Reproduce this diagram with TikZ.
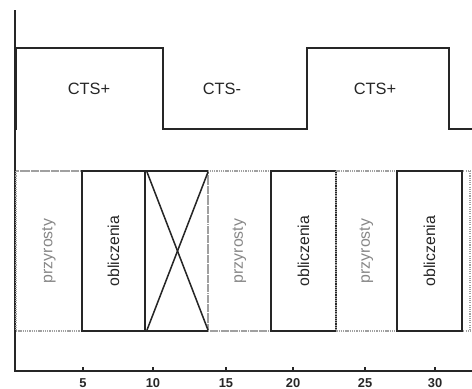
\documentclass[tikz,border=0pt]{standalone}
\usepackage{fontspec}
\setmainfont{Liberation Sans}
\usepackage{tikz}
\usetikzlibrary{positioning}
\definecolor{ink}{RGB}{38,38,38}
\definecolor{muted}{RGB}{135,135,135}
\definecolor{rline}{RGB}{160,160,160}
\tikzset{
  sigline/.style ={line width=1.8pt, color=ink, line join=miter},
  axisline/.style={line width=0.9pt, color=ink},
  gainbox/.style ={draw=rline, densely dotted, line width=0.9pt},
  calcbox/.style ={draw=ink, line width=1.5pt},
  gaintext/.style={rotate=90, color=muted, font=\fontsize{13.5}{15}\selectfont},
  calctext/.style={rotate=90, color=ink, font=\fontsize{13.5}{15}\selectfont},
  siglabel/.style={color=ink, font=\fontsize{14}{16}\selectfont},
  ticklabel/.style={color=ink, font=\fontsize{11}{12}\selectfont\bfseries, anchor=north},
}
\begin{document}
\begin{tikzpicture}[x=0.03cm, y=-0.03cm]
\useasboundingbox (0,0) rectangle (472,389);
% axes
\draw[axisline] (15,10) -- (15,371) -- (472,371);
\foreach \v/\x in {5/83, 10/153, 15/226, 20/293, 25/365, 30/435} {
  \draw[axisline] (\x,371) -- (\x,367);
  \node[ticklabel] (tick\v) at (\x,374) {\v};
}
% CTS signal
\draw[sigline] (16,130) -- (16,48) -- (163,48) -- (163,129) -- (307,129)
  -- (307,48) -- (449,48) -- (449,129) -- (472,129);
\node[siglabel] (ctsA) at (89,89) {CTS+};
\node[siglabel] (ctsB) at (222,89) {CTS-};
\node[siglabel] (ctsC) at (375,89) {CTS+};
% time slots
\draw[gainbox] (16,171) -- (472,171);
\draw[gainbox] (16,331) -- (472,331);
\draw[gainbox] (470,171) -- (470,331);
\foreach \a/\b/\kind/\txt in {16/82/gain/przyrosty, 82/145/calc/obliczenia,
    208/271/gain/przyrosty, 271/336/calc/obliczenia,
    336/397/gain/przyrosty, 397/462/calc/obliczenia} {
  \draw[\kind box] (\a,171) rectangle (\b,331);
  \node[\kind text] (slot\a) at ({(\a+\b)/2},251) {\txt};
}
% skipped slot
\draw[gainbox] (145,171) rectangle (208,331);
\draw[calcbox] (208,171) -- (145,171) -- (145,331) -- (208,331);
\draw[calcbox, line width=1.3pt] (147,172) -- (208,330);
\draw[calcbox, line width=1.3pt] (208,172) -- (147,330);
\end{tikzpicture}
\end{document}
